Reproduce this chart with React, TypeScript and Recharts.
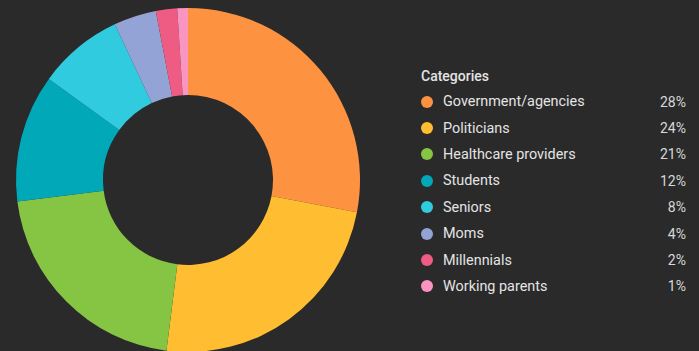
import { PieChart, Pie, Cell, Legend } from 'recharts'

const categories = [
  'Government/agencies',
  'Politicians',
  'Healthcare providers',
  'Students',
  'Seniors',
  'Moms',
  'Millennials',
  'Working parents',
]
const shares = [28, 24, 21, 12, 8, 4, 2, 1]
const colors = ['#fd9240', '#ffbd31', '#86c443', '#00a8b8', '#31cbe0', '#94a3d6', '#ee5b83', '#f995c0']

const data = categories.map((name, i) => ({ name, value: shares[i] }))

function CategoryLegend() {
  return (
    <div style={{ width: 270, fontFamily: 'Roboto, sans-serif', color: '#e4e4e4' }}>
      <div style={{ height: 26, lineHeight: '26px', fontSize: 14, fontWeight: 500, paddingLeft: 5 }}>Categories</div>
      {data.map((d, i) => (
        <div key={d.name} style={{ height: 26.4, display: 'flex', alignItems: 'center', fontSize: 14.4 }}>
          <span
            style={{
              width: 12,
              height: 12,
              borderRadius: 6,
              background: colors[i],
              marginLeft: 5,
              marginRight: 10,
              flex: 'none',
            }}
          />
          <span style={{ flex: 1 }}>{d.name}</span>
          <span style={{ color: '#d8d8d8', fontSize: 14 }}>{d.value}%</span>
        </div>
      ))}
    </div>
  )
}

export default function App() {
  return (
    <div style={{ position: 'absolute', left: 0, top: 0, width: 699, height: 351, background: '#2a2a2a' }}>
      <PieChart width={699} height={351} margin={{ top: 0, right: 0, bottom: 0, left: 0 }}>
        <Pie
          data={data}
          dataKey="value"
          nameKey="name"
          cx={188}
          cy={180}
          innerRadius={85}
          outerRadius={172}
          startAngle={90}
          endAngle={-270}
          stroke="none"
          isAnimationActive={false}
        >
          {data.map((d, i) => (
            <Cell key={d.name} fill={colors[i]} />
          ))}
        </Pie>
        <Legend
          content={<CategoryLegend />}
          wrapperStyle={{ position: 'absolute', left: 416, top: 62.5, width: 270 }}
        />
      </PieChart>
    </div>
  )
}
